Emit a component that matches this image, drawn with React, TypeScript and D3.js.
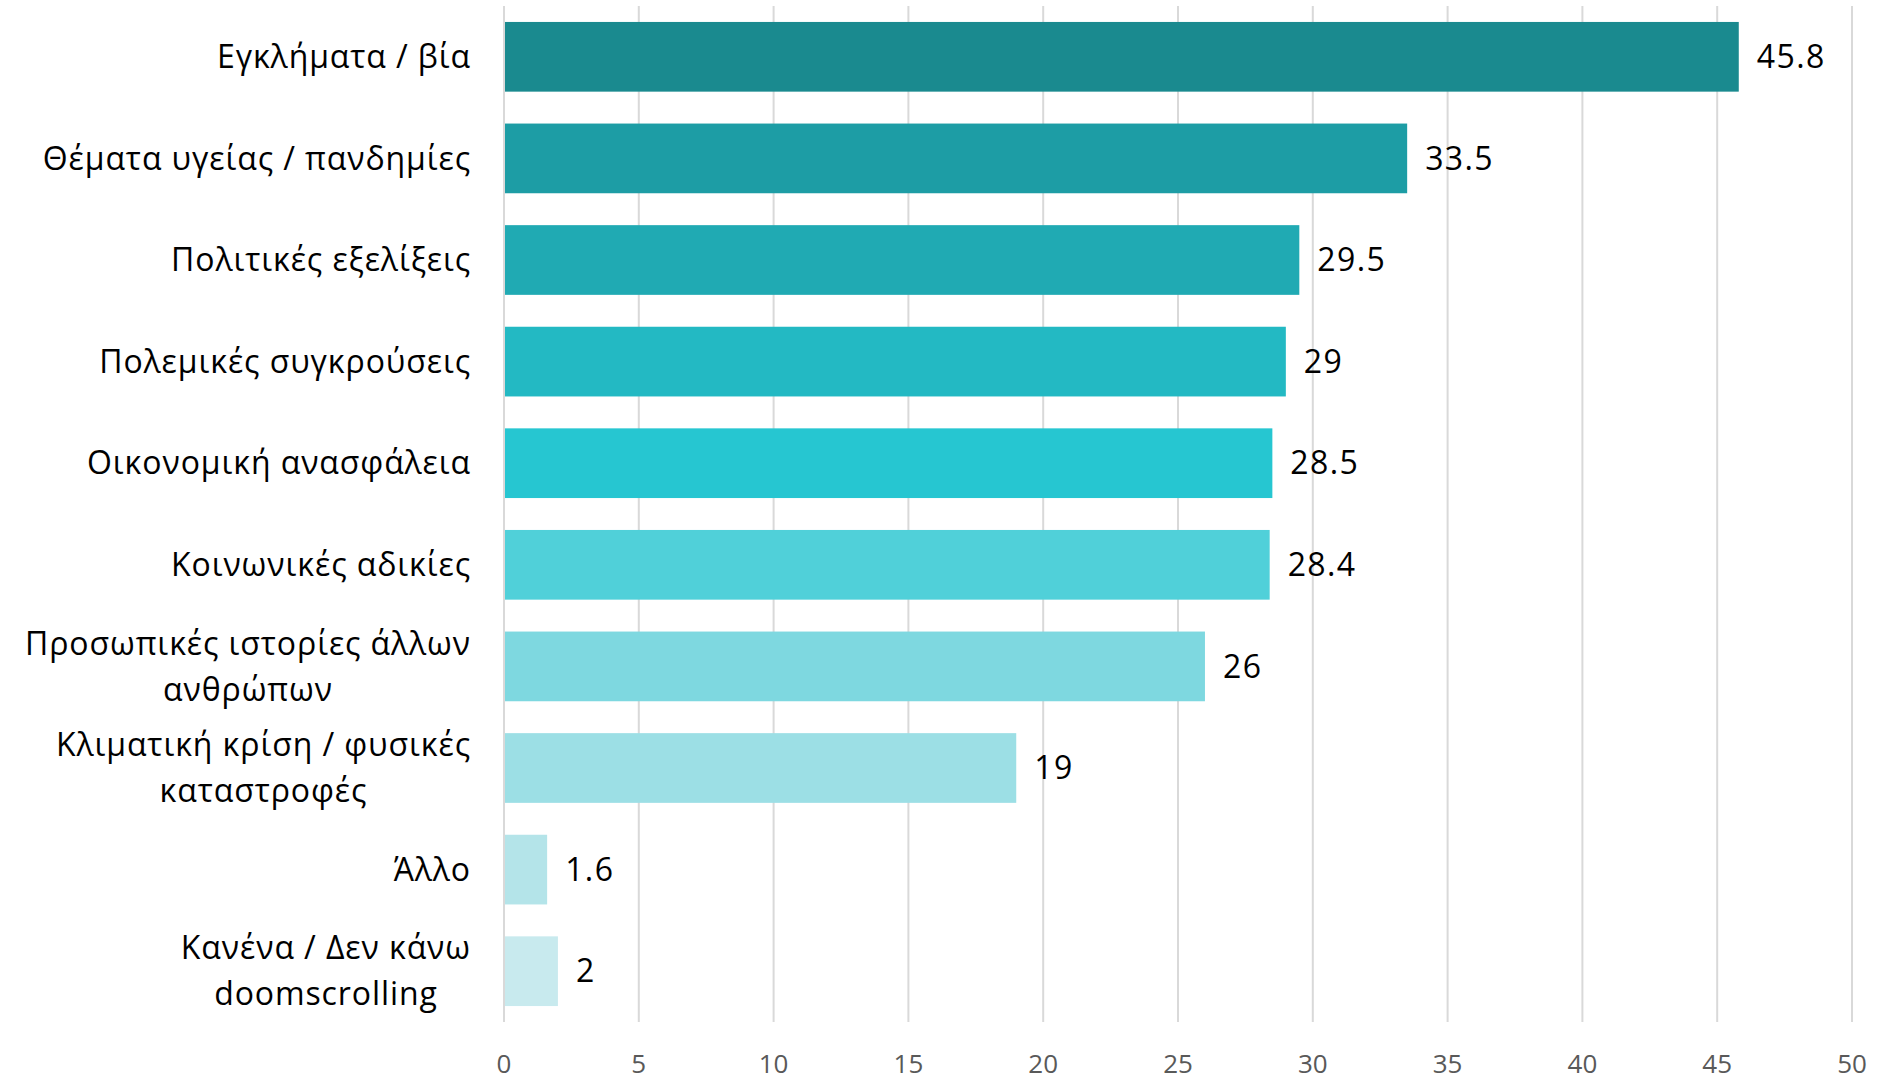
import React from "react";
import * as d3 from "d3";

const categories: string[][] = [
  ["Εγκλήματα / βία"],
  ["Θέματα υγείας / πανδημίες"],
  ["Πολιτικές εξελίξεις"],
  ["Πολεμικές συγκρούσεις"],
  ["Οικονομική ανασφάλεια"],
  ["Κοινωνικές αδικίες"],
  ["Προσωπικές ιστορίες άλλων", "ανθρώπων"],
  ["Κλιματική κρίση / φυσικές", "καταστροφές"],
  ["Άλλο"],
  ["Κανένα / Δεν κάνω", "doomscrolling"],
];
const values: number[] = [45.8, 33.5, 29.5, 29, 28.5, 28.4, 26, 19, 1.6, 2];
const valueLabels: string[] = ["45.8", "33.5", "29.5", "29", "28.5", "28.4", "26", "19", "1.6", "2"];
const barColors: string[] = [
  "#1A8A8F", "#1D9DA5", "#20AAB3", "#23B9C3", "#26C6D1",
  "#50D0D9", "#7ED8E0", "#9CDFE5", "#B4E4E9", "#C8EAEE",
];
const xTicks: number[] = [0, 5, 10, 15, 20, 25, 30, 35, 40, 45, 50];

const W = 1878;
const H = 1081;
const FONT = "'Open Sans', 'Noto Sans', sans-serif";

function measure(text: string, size: number, spacing: number): number {
  const c = document.createElement("canvas");
  const ctx = c.getContext("2d")!;
  ctx.font = `${size}px ${FONT}`;
  return ctx.measureText(text).width + spacing * text.length;
}

export default function App() {
  const x = d3.scaleLinear().domain([0, 50]).range([504, 1852]);
  const y = d3
    .scaleBand<number>()
    .domain(d3.range(categories.length))
    .range([6, 1022])
    .paddingInner(0.314)
    .paddingOuter(0.157);
  const labelSize = 32;
  const labelSpacing = 0.9;
  const lineH = 46;
  const labelRight = 471;

  return (
    <svg width={W} height={H} style={{ display: "block", position: "absolute", left: 0, top: 0 }} fontFamily={FONT}>
      <rect width={W} height={H} fill="#fff" />
      {xTicks.map((t) => (
        <line key={t} x1={x(t)} x2={x(t)} y1={6} y2={1022} stroke="#D9D9D9" strokeWidth={2} />
      ))}
      {xTicks.map((t) => (
        <text key={"t" + t} x={x(t)} y={1073} textAnchor="middle" fontSize={26} fill="#595959">
          {t}
        </text>
      ))}
      {values.map((v, i) => (
        <rect key={i} x={x(0) + 1} y={y(i)!} width={x(v) - x(0) - 1} height={y.bandwidth()} fill={barColors[i]} />
      ))}
      {values.map((v, i) => (
        <text
          key={"v" + i}
          x={x(v) + 18}
          y={y(i)! + y.bandwidth() / 2}
          dy="0.35em"
          fontSize={32}
          letterSpacing={1.4}
          fill="#000"
        >
          {valueLabels[i]}
        </text>
      ))}
      {categories.map((lines, i) => {
        const widths = lines.map((l) => measure(l, labelSize, labelSpacing));
        const maxW = Math.max(...widths);
        const cx = labelRight - maxW / 2;
        const cy = y(i)! + y.bandwidth() / 2;
        const startY = cy - ((lines.length - 1) * lineH) / 2;
        return (
          <text key={"c" + i} fontSize={labelSize} letterSpacing={labelSpacing} fill="#000" textAnchor="middle">
            {lines.map((l, j) => (
              <tspan key={j} x={cx} y={startY + j * lineH} dy="0.35em">
                {l}
              </tspan>
            ))}
          </text>
        );
      })}
    </svg>
  );
}
